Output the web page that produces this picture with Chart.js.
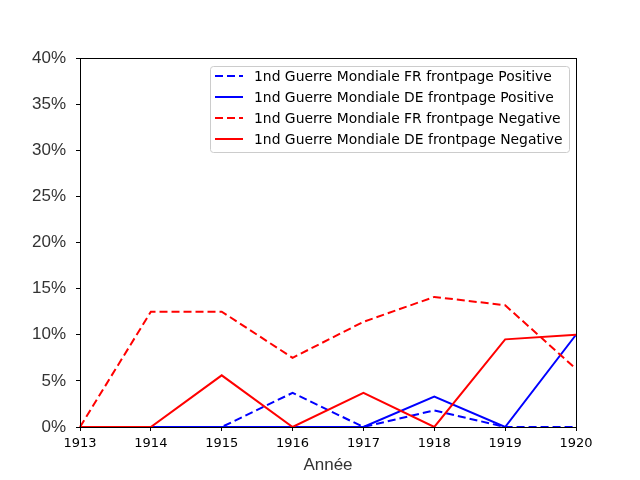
<!DOCTYPE html>
<html>
<head>
<meta charset="utf-8">
<script src="https://cdn.jsdelivr.net/npm/chart.js@4"></script>
<style>
	body { margin: 0; background: #fff; }
	#wrap { width: 640px; height: 480px; }
</style>
</head>
<body>
<div id="wrap"><canvas id="chart" width="640" height="480"></canvas></div>
<script>
/* 1ère Guerre Mondiale - frontpages FR / DE */

const annees = ['1913', '1914', '1915', '1916', '1917', '1918', '1919', '1920'];
const yTicks = [0, 0.05, 0.10, 0.15, 0.20, 0.25, 0.30, 0.35, 0.40];

const frPositive = [0, 0, 0, 0.037, 0, 0.018, 0, 0];
const dePositive = [0, 0, 0, 0, 0, 0.033, 0, 0.10];
const frNegative = [0, 0.125, 0.125, 0.075, 0.114, 0.141, 0.132, 0.063];
const deNegative = [0, 0, 0.056, 0, 0.037, 0, 0.095, 0.10];

//legende dans le graphique
const legendBox = {
	id: 'legendBox',
	afterDraw(chart) {
		const ctx = chart.ctx;
		ctx.save();
		ctx.fillStyle = 'rgba(255,255,255,0.8)';
		ctx.strokeStyle = '#cccccc';
		ctx.lineWidth = 1;
		ctx.beginPath();
		ctx.roundRect(210.5, 66.5, 359, 86, 3);
		ctx.fill();
		ctx.stroke();
		ctx.font = '13.9px "DejaVu Sans"';
		ctx.textBaseline = 'middle';
		chart.data.datasets.forEach(function(ds, i) {
			const y = 76 + i * 21;
			ctx.strokeStyle = ds.borderColor;
			ctx.lineWidth = 2;
			ctx.setLineDash(ds.borderDash || []);
			ctx.beginPath();
			ctx.moveTo(215, y);
			ctx.lineTo(243, y);
			ctx.stroke();
			ctx.setLineDash([]);
			ctx.fillStyle = '#000';
			ctx.fillText(ds.label, 254, y + 1);
		});
		ctx.restore();
	}
};

//cadre haut et droite
const frame = {
	id: 'frame',
	afterDraw(chart) {
		const a = chart.chartArea;
		const ctx = chart.ctx;
		ctx.save();
		ctx.strokeStyle = '#000';
		ctx.lineWidth = 1;
		ctx.strokeRect(Math.round(a.left) + 0.5, Math.round(a.top) + 0.5, a.right - a.left, a.bottom - a.top);
		ctx.restore();
	}
};

const data = {
	labels: annees,
	datasets: [{
		label: '1nd Guerre Mondiale FR frontpage Positive',
		data: frPositive,
		borderColor: 'rgb(0, 0, 255)',
		borderDash: [8, 4],
		order: 4
	}, {
		label: '1nd Guerre Mondiale DE frontpage Positive',
		data: dePositive,
		borderColor: 'rgb(0, 0, 255)',
		order: 3
	}, {
		label: '1nd Guerre Mondiale FR frontpage Negative',
		data: frNegative,
		borderColor: 'rgb(255, 0, 0)',
		borderDash: [8, 4],
		order: 2
	}, {
		label: '1nd Guerre Mondiale DE frontpage Negative',
		data: deNegative,
		borderColor: 'rgb(255, 0, 0)',
		order: 1
	}]
};

const config = {
	type: 'line',
	data: data,
	options: {
		responsive: false,
		animation: false,
		layout: { padding: { left: 0, top: 58, right: 64, bottom: 0 } },
		elements: {
			point: { radius: 0 },
			line: { borderWidth: 2, tension: 0, fill: false }
		},
		plugins: {
			legend: { display: false },
			tooltip: { enabled: false }
		},
		scales: {
			x: {
				offset: false,
				grid: { drawOnChartArea: false, color: '#000', tickLength: 4 },
				border: { color: '#000' },
				ticks: { color: '#000', font: { family: 'DejaVu Sans', size: 13 }, padding: 5, maxRotation: 0, autoSkip: false },
				title: { display: true, text: 'Année', color: '#333', font: { family: 'Liberation Sans', size: 17 }, padding: { top: 7 } },
				afterFit: function(s) { s.height = 53; }
			},
			y: {
				min: 0,
				max: 0.4,
				afterBuildTicks: function(s) { s.ticks = yTicks.map(function(v) { return { value: v }; }); },
				grid: { drawOnChartArea: false, color: '#000', tickLength: 4 },
				border: { color: '#000' },
				ticks: {
					color: '#333',
					font: { family: 'Liberation Sans', size: 17 },
					padding: 10,
					callback: function(v) { return Math.round(v * 100) + '%'; }
				},
				afterFit: function(s) { s.width = 80; }
			}
		}
	},
	plugins: [frame, legendBox]
};

const chart = new Chart(document.getElementById('chart'), config);
</script>
</body>
</html>
